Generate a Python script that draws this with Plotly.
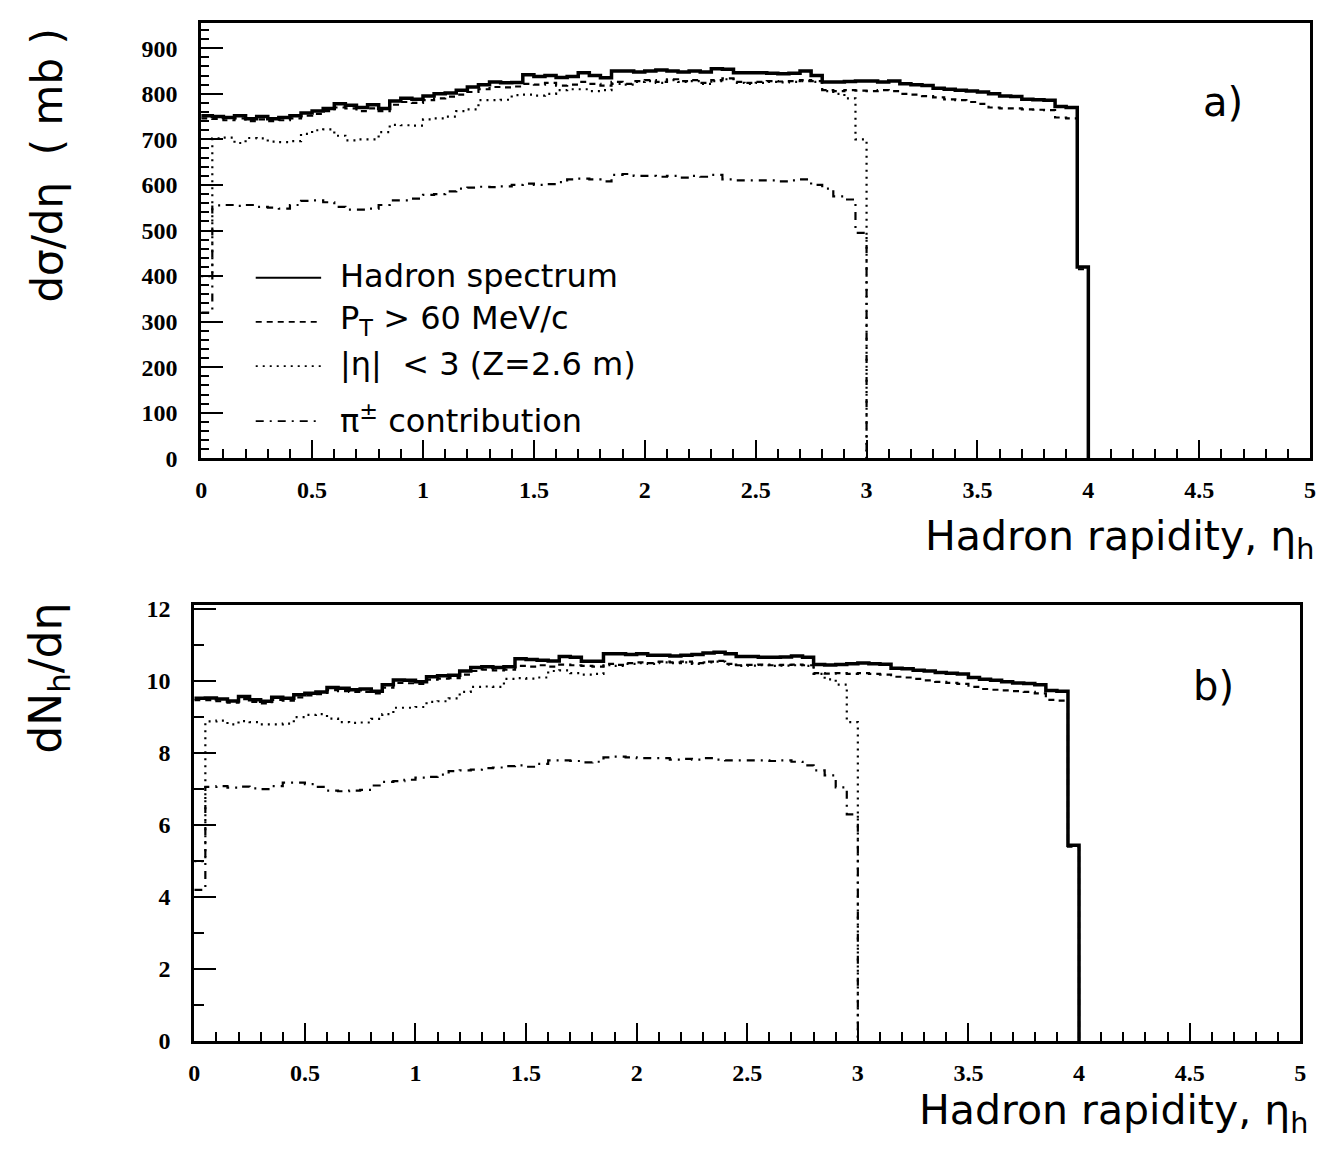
import numpy as np
import plotly.graph_objects as go

# ---------------- data (bin width 0.05 in eta) ----------------
BIN_WIDTH = 0.05

# Panel a: d sigma / d eta (mb)
a_hadron = [752, 750, 748, 752, 745, 750, 745, 748, 752, 758,
            762, 768, 778, 775, 770, 776, 768, 784, 790, 788,
            795, 800, 802, 808, 815, 820, 826, 824, 825, 842,
            838, 840, 836, 838, 846, 840, 835, 850, 850, 848,
            850, 852, 850, 848, 850, 848, 855, 854, 846, 846,
            846, 845, 844, 845, 850, 840, 826, 826, 827, 828,
            828, 826, 828, 822, 820, 818, 812, 810, 808, 806,
            804, 800, 795, 794, 788, 787, 786, 772, 770, 420]
a_pt60 = [746, 745, 742, 746, 740, 744, 740, 742, 746, 752,
          756, 762, 770, 768, 762, 768, 762, 776, 782, 780,
          786, 790, 794, 798, 804, 810, 815, 814, 816, 822,
          820, 824, 818, 820, 826, 822, 818, 826, 822, 828,
          830, 826, 832, 828, 830, 824, 830, 834, 826, 824,
          826, 828, 827, 828, 830, 828, 808, 806, 808, 807,
          806, 808, 806, 800, 798, 795, 792, 788, 786, 782,
          778, 770, 768, 768, 766, 765, 764, 748, 746, 415]
a_eta3 = [400, 702, 704, 692, 703, 702, 695, 694, 696, 712,
          720, 722, 708, 698, 700, 700, 716, 732, 731, 730,
          744, 746, 750, 762, 766, 786, 786, 787, 797, 798,
          796, 800, 808, 810, 810, 806, 808, 822, 820, 826,
          828, 824, 830, 826, 828, 822, 828, 832, 824, 822,
          824, 826, 825, 826, 828, 826, 806, 800, 790, 700]
a_pion = [320, 555, 556, 554, 556, 552, 550, 548, 556, 565,
          566, 562, 552, 546, 546, 548, 556, 566, 566, 570,
          578, 580, 586, 592, 594, 596, 595, 597, 600, 603,
          600, 602, 606, 612, 614, 612, 608, 622, 624, 620,
          620, 618, 620, 616, 620, 618, 622, 612, 610, 610,
          610, 610, 608, 610, 612, 600, 592, 575, 568, 495]

# Panel b: dN_h / d eta
b_hadron = [9.52, 9.53, 9.50, 9.45, 9.57, 9.48, 9.44, 9.55, 9.52, 9.62,
            9.66, 9.70, 9.82, 9.80, 9.76, 9.78, 9.72, 9.90, 10.03, 10.02,
            9.98, 10.12, 10.15, 10.16, 10.28, 10.38, 10.40, 10.38, 10.40, 10.62,
            10.60, 10.58, 10.56, 10.68, 10.66, 10.55, 10.55, 10.76, 10.76, 10.74,
            10.76, 10.72, 10.72, 10.70, 10.72, 10.74, 10.78, 10.80, 10.76, 10.68,
            10.68, 10.66, 10.66, 10.67, 10.70, 10.66, 10.46, 10.45, 10.46, 10.48,
            10.50, 10.48, 10.47, 10.36, 10.34, 10.30, 10.28, 10.24, 10.22, 10.20,
            10.10, 10.05, 10.02, 9.98, 9.95, 9.93, 9.90, 9.74, 9.72, 5.44]
b_pt60 = [9.47, 9.47, 9.44, 9.40, 9.50, 9.42, 9.38, 9.48, 9.46, 9.55,
          9.60, 9.64, 9.75, 9.72, 9.70, 9.70, 9.66, 9.82, 9.95, 9.94,
          9.92, 10.04, 10.07, 10.08, 10.18, 10.28, 10.32, 10.30, 10.32, 10.42,
          10.40, 10.44, 10.40, 10.46, 10.44, 10.42, 10.40, 10.48, 10.45, 10.50,
          10.52, 10.50, 10.54, 10.52, 10.54, 10.50, 10.54, 10.56, 10.48, 10.44,
          10.45, 10.46, 10.44, 10.45, 10.46, 10.44, 10.22, 10.21, 10.22, 10.20,
          10.22, 10.20, 10.18, 10.12, 10.10, 10.06, 10.02, 9.98, 9.95, 9.92,
          9.84, 9.78, 9.76, 9.74, 9.72, 9.70, 9.66, 9.48, 9.46, 5.40]
b_eta3 = [5.0, 8.88, 8.90, 8.80, 8.89, 8.86, 8.80, 8.80, 8.82, 9.00,
          9.06, 9.08, 8.96, 8.86, 8.84, 8.85, 8.95, 9.08, 9.26, 9.26,
          9.28, 9.42, 9.44, 9.52, 9.70, 9.84, 9.85, 9.84, 10.06, 10.08,
          10.07, 10.10, 10.28, 10.30, 10.22, 10.18, 10.20, 10.44, 10.42, 10.48,
          10.50, 10.48, 10.52, 10.50, 10.52, 10.48, 10.52, 10.54, 10.46, 10.42,
          10.43, 10.44, 10.42, 10.43, 10.44, 10.42, 10.20, 10.05, 9.90, 8.86]
b_pion = [4.2, 7.06, 7.08, 7.04, 7.07, 7.02, 7.00, 7.08, 7.18, 7.18,
          7.14, 7.06, 6.96, 6.94, 6.96, 6.98, 7.10, 7.20, 7.22, 7.26,
          7.32, 7.34, 7.40, 7.50, 7.52, 7.54, 7.58, 7.60, 7.64, 7.66,
          7.62, 7.70, 7.80, 7.80, 7.78, 7.74, 7.76, 7.88, 7.90, 7.88,
          7.86, 7.86, 7.86, 7.82, 7.84, 7.82, 7.86, 7.82, 7.80, 7.80,
          7.80, 7.80, 7.78, 7.80, 7.76, 7.66, 7.52, 7.38, 7.05, 6.30]

X_TICKS = [0, 0.5, 1, 1.5, 2, 2.5, 3, 3.5, 4, 4.5, 5]
X_TICK_TEXT = ["0", "0.5", "1", "1.5", "2", "2.5", "3", "3.5", "4", "4.5", "5"]
A_Y_TICKS = list(range(0, 1000, 100))
B_Y_TICKS = [0, 2, 4, 6, 8, 10, 12]

LEGEND = ["Hadron spectrum", "P<sub>T</sub> > 60 MeV/c",
          "|η|  < 3 (Z=2.6 m)", "π<sup>±</sup> contribution"]

# ---------------- figure ----------------
W, H = 1330, 1162


def px(x):
    return x / W


def py(y):
    return 1 - y / H


STYLES = [dict(width=3.5, dash="solid"),
          dict(width=2.2, dash="6px,5px"),
          dict(width=2.2, dash="2px,5px"),
          dict(width=2.2, dash="8px,6px,2px,6px")]


def step_trace(vals, style, xa, ya):
    n = len(vals)
    edges = [round(i * BIN_WIDTH, 4) for i in range(n + 1)]
    xs = edges[:n] + [edges[n]]
    ys = list(vals) + [0]
    return go.Scatter(x=xs, y=ys, mode="lines", line_shape="hv",
                      line=dict(color="black", **style),
                      xaxis=xa, yaxis=ya, showlegend=False,
                      hoverinfo="skip")


fig = go.Figure()
for vals, st in zip([a_hadron, a_pt60, a_eta3, a_pion], STYLES):
    fig.add_trace(step_trace(vals, st, "x", "y"))
for vals, st in zip([b_hadron, b_pt60, b_eta3, b_pion], STYLES):
    fig.add_trace(step_trace(vals, st, "x2", "y2"))

tickfont = dict(family="Liberation Serif", size=24, color="black", weight="bold")

common_x = dict(range=[0, 5], tickmode="array", tickvals=X_TICKS,
                ticktext=X_TICK_TEXT, ticks="inside", ticklen=18,
                tickwidth=2, tickcolor="black", showline=True,
                linewidth=3, linecolor="black", mirror=True,
                showgrid=False, zeroline=False, tickfont=tickfont,
                ticklabelstandoff=8,
                minor=dict(dtick=0.1, ticks="inside", ticklen=9,
                           tickwidth=1.5, tickcolor="black", showgrid=False))

common_y = dict(ticks="inside", tickwidth=2, tickcolor="black",
                showline=True, linewidth=3, linecolor="black", mirror=True,
                showgrid=False, zeroline=False, tickfont=tickfont,
                ticklabelstandoff=16)

fig.update_layout(
    width=W, height=H,
    margin=dict(l=0, r=0, t=0, b=0),
    paper_bgcolor="white", plot_bgcolor="white",
    xaxis=dict(domain=[px(197), px(1316)], anchor="y", **common_x),
    yaxis=dict(domain=[py(458), py(14)], anchor="x", range=[0, 956],
               tickmode="array", tickvals=A_Y_TICKS, ticklen=22,
               minor=dict(dtick=20, ticks="inside", ticklen=8,
                          tickwidth=1.5, tickcolor="black", showgrid=False),
               **common_y),
    xaxis2=dict(domain=[px(190), px(1306)], anchor="y2", **common_x),
    yaxis2=dict(domain=[py(1052), py(608)], anchor="x2", range=[0, 12.1],
                tickmode="array", tickvals=B_Y_TICKS, ticklen=22,
                minor=dict(dtick=1, ticks="inside", ticklen=10,
                           tickwidth=1.5, tickcolor="black", showgrid=False),
                **common_y),
)

title_font = dict(family="DejaVu Sans", size=41, color="black")
ann = []
ann.append(dict(text="Hadron rapidity, η<sub>h</sub>", x=px(1322), y=py(540),
                xref="paper", yref="paper", xanchor="right", yanchor="middle",
                showarrow=False, font=title_font))
ann.append(dict(text="Hadron rapidity, η<sub>h</sub>", x=px(1316), y=py(1125),
                xref="paper", yref="paper", xanchor="right", yanchor="middle",
                showarrow=False, font=title_font))
ann.append(dict(text="dσ/dη  ( mb )", x=px(42), y=py(160), textangle=-90,
                xref="paper", yref="paper", xanchor="center", yanchor="middle",
                showarrow=False, font=dict(family="DejaVu Sans", size=42, color="black")))
ann.append(dict(text="dN<sub>h</sub>/dη", x=px(42), y=py(682), textangle=-90,
                xref="paper", yref="paper", xanchor="center", yanchor="middle",
                showarrow=False, font=dict(family="DejaVu Sans", size=44, color="black")))
ann.append(dict(text="a)", x=px(1228), y=py(95), xref="paper", yref="paper",
                xanchor="center", yanchor="middle", showarrow=False,
                font=dict(family="DejaVu Sans", size=40, color="black")))
ann.append(dict(text="b)", x=px(1218), y=py(690), xref="paper", yref="paper",
                xanchor="center", yanchor="middle", showarrow=False,
                font=dict(family="DejaVu Sans", size=40, color="black")))

legend_rows_y = [272, 317, 362, 418]
shapes = []
for label, st, yy in zip(LEGEND, STYLES, legend_rows_y):
    ann.append(dict(text=label, x=px(335), y=py(yy), xref="paper", yref="paper",
                    xanchor="left", yanchor="middle", showarrow=False,
                    font=dict(family="DejaVu Sans", size=32, color="black")))
    shapes.append(dict(type="line", xref="paper", yref="paper",
                       x0=px(252), x1=px(318), y0=py(yy + 2), y1=py(yy + 2),
                       line=dict(color="black", width=2 if st["dash"] == "solid" else 1.8,
                                 dash=st["dash"])))

fig.update_layout(annotations=ann, shapes=shapes)
fig.write_html("out.html")
